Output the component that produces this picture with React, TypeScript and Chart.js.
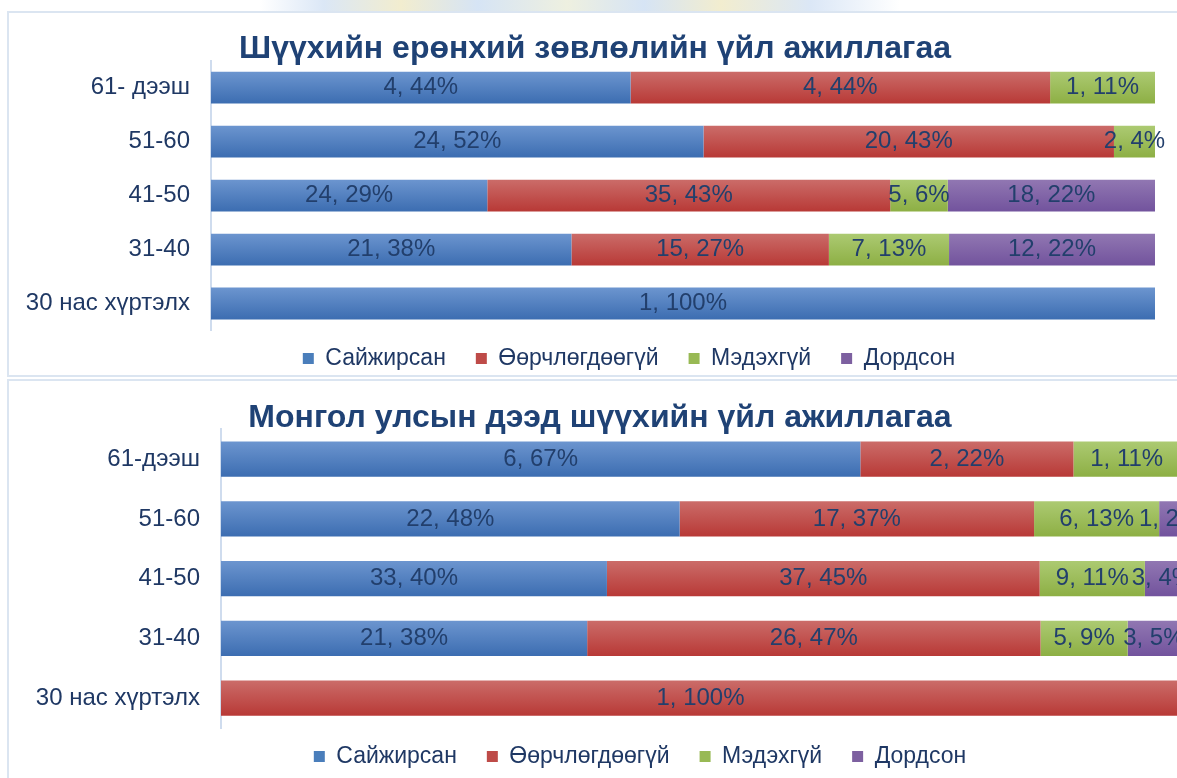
import React, { useEffect, useRef } from "react";
import { Chart, registerables } from "chart.js";

Chart.register(...registerables);

// ---------- data ----------
const seriesNames = ["Сайжирсан", "Өөрчлөгдөөгүй", "Мэдэхгүй", "Дордсон"];

const councilTitle = "Шүүхийн ерөнхий зөвлөлийн үйл ажиллагаа";
const councilAges = ["61- дээш", "51-60", "41-50", "31-40", "30 нас хүртэлх"];
const councilImproved = [4, 24, 24, 21, 1];
const councilUnchanged = [4, 20, 35, 15, 0];
const councilUnknown = [1, 2, 5, 7, 0];
const councilWorse = [0, 0, 18, 12, 0];

const courtTitle = "Монгол улсын дээд шүүхийн үйл ажиллагаа";
const courtAges = ["61-дээш", "51-60", "41-50", "31-40", "30 нас хүртэлх"];
const courtImproved = [6, 22, 33, 21, 0];
const courtUnchanged = [2, 17, 37, 26, 1];
const courtUnknown = [1, 6, 9, 5, 0];
const courtWorse = [0, 1, 3, 3, 0];

// ---------- style ----------
const FONT = "'Liberation Sans', Arial, sans-serif";
const TEXT = "#1f3864";
const TITLE = "#1f4275";
const LABEL = "#223f6c";
const BAR_PCT = 0.59;
const gradStops = [
  ["#6c95cf", "#3c6db1"],
  ["#cb6c69", "#b83936"],
  ["#acca72", "#8daf44"],
  ["#9177b2", "#72539d"],
];
const solid = ["#4a7ebb", "#be4b48", "#98b954", "#7d60a0"];

type Cfg = {
  title: string;
  labels: string[];
  counts: number[][];
  width: number;
  height: number;
  padRight: number;
  axisWidth: number;
  titlePadTop: number;
  legendMaxH: number;
  nudge: { title: { x: number; y: number }; legend: { x: number; y: number } };
};

const segLabels = {
  id: "segLabels",
  afterDatasetsDraw(chart: any) {
    const ctx = chart.ctx;
    ctx.save();
    ctx.font = `24px ${FONT}`;
    ctx.fillStyle = LABEL;
    ctx.textAlign = "center";
    ctx.textBaseline = "middle";
    chart.data.datasets.forEach((ds: any, di: number) => {
      const meta = chart.getDatasetMeta(di);
      meta.data.forEach((el: any, i: number) => {
        const count = ds.counts[i];
        if (!count) return;
        const pct = Math.round(ds.data[i]);
        const p = el.getProps(["x", "y", "base"], true);
        ctx.fillText(`${count}, ${pct}%`, (p.x + p.base) / 2, p.y);
      });
    });
    ctx.restore();
  },
};

// moves title / legend boxes after layout; legend box is only stretched upward so it is not clipped
const nudge = {
  id: "nudge",
  afterLayout(chart: any, _args: any, opts: any) {
    const t = chart.titleBlock;
    if (t && opts.title) {
      t.left += opts.title.x;
      t.right += opts.title.x;
      t.top += opts.title.y;
      t.bottom += opts.title.y;
    }
    const l = chart.legend;
    if (l && opts.legend) {
      l.left += opts.legend.x;
      l.right += opts.legend.x;
      l.top += opts.legend.y;
      l.height = l.bottom - l.top;
    }
  },
};

function StackChart({ cfg }: { cfg: Cfg }) {
  const ref = useRef<HTMLCanvasElement | null>(null);
  useEffect(() => {
    if (!ref.current) return;
    const n = cfg.labels.length;
    const totals = cfg.labels.map((_, i) =>
      cfg.counts.reduce((s, arr) => s + arr[i], 0)
    );
    const datasets = seriesNames.map((name, si) => ({
      label: name,
      counts: cfg.counts[si],
      data: cfg.counts[si].map((c, i) => (c / totals[i]) * 100),
      borderWidth: 0,
      barPercentage: BAR_PCT,
      categoryPercentage: 1,
      backgroundColor: (ctx: any) => {
        const chart = ctx.chart;
        const ys = chart.scales && chart.scales.y;
        if (!ys || ctx.type !== "data") return solid[si];
        const center = ys.getPixelForValue(ctx.dataIndex);
        const band = (ys.bottom - ys.top) / n;
        if (!isFinite(center) || !isFinite(band) || band <= 0) return solid[si];
        const half = (band * BAR_PCT) / 2;
        const g = chart.ctx.createLinearGradient(0, center - half, 0, center + half);
        g.addColorStop(0, gradStops[si][0]);
        g.addColorStop(1, gradStops[si][1]);
        return g;
      },
    }));
    const chart = new Chart(ref.current, {
      type: "bar",
      data: { labels: cfg.labels, datasets: datasets as any },
      plugins: [segLabels, nudge],
      options: {
        indexAxis: "y",
        responsive: false,
        animation: false,
        devicePixelRatio: 1,
        layout: { padding: { left: 0, right: cfg.padRight, top: 0, bottom: 0 } },
        scales: {
          x: { stacked: true, min: 0, max: 100, display: false },
          y: {
            stacked: true,
            grid: { display: false, drawTicks: false },
            border: { display: true, color: "#cfdcee", width: 2 },
            ticks: {
              padding: 21,
              color: TEXT,
              font: { family: FONT, size: 24 },
            },
            afterFit: (scale: any) => {
              scale.width = cfg.axisWidth;
            },
          },
        },
        plugins: {
          tooltip: { enabled: false },
          title: {
            display: true,
            text: cfg.title,
            color: TITLE,
            font: { family: FONT, size: 32, weight: "bold", lineHeight: 0.7 },
            padding: { top: cfg.titlePadTop, bottom: 0 },
          },
          legend: {
            display: true,
            position: "bottom",
            maxHeight: cfg.legendMaxH,
            labels: {
              color: TEXT,
              font: { family: FONT, size: 23 },
              boxWidth: 11,
              boxHeight: 11,
              padding: 30,
              generateLabels: (ch: any) => {
                const items = Chart.defaults.plugins.legend.labels.generateLabels(ch);
                return items.map((it: any, i: number) => ({
                  ...it,
                  fillStyle: solid[i],
                  strokeStyle: solid[i],
                  lineWidth: 0,
                }));
              },
            },
          },
          nudge: cfg.nudge,
        } as any,
      },
    });
    return () => chart.destroy();
  }, [cfg]);
  return (
    <canvas
      ref={ref}
      width={cfg.width}
      height={cfg.height}
      style={{ width: cfg.width, height: cfg.height, display: "block" }}
    />
  );
}

const councilCfg: Cfg = {
  title: councilTitle,
  labels: councilAges,
  counts: [councilImproved, councilUnchanged, councilUnknown, councilWorse],
  width: 1177,
  height: 364,
  padRight: 22,
  axisWidth: 211,
  titlePadTop: 26.3,
  legendMaxH: 45.5,
  nudge: { title: { x: 17.5, y: 0 }, legend: { x: 51.5, y: -13.5 } },
};

const courtCfg: Cfg = {
  title: courtTitle,
  labels: courtAges,
  counts: [courtImproved, courtUnchanged, courtUnknown, courtWorse],
  width: 1200,
  height: 398,
  padRight: 20,
  axisWidth: 221,
  titlePadTop: 26.9,
  legendMaxH: 50,
  nudge: { title: { x: 10, y: 0 }, legend: { x: 50, y: -13 } },
};

export default function App() {
  return (
    <div
      style={{
        position: "absolute",
        left: 0,
        top: 0,
        width: 1177,
        height: 778,
        overflow: "hidden",
        background: "#ffffff",
      }}
    >
      <div
        style={{
          position: "absolute",
          left: 260,
          top: 0,
          width: 640,
          height: 11,
          background:
            "linear-gradient(90deg, rgba(255,255,255,0) 0%, #dbe7f6 10%, #f2edcf 22%, #d6e4f5 34%, #eef0e0 48%, #d6e4f5 60%, #f2edcf 72%, #dbe7f6 86%, rgba(255,255,255,0) 100%)",
        }}
      />
      <div
        style={{
          position: "absolute",
          left: 7,
          top: 11,
          width: 1200,
          height: 366,
          border: "2px solid #dbe5f1",
          boxSizing: "border-box",
        }}
      />
      <div
        style={{
          position: "absolute",
          left: 7,
          top: 379,
          width: 1200,
          height: 430,
          border: "2px solid #dbe5f1",
          boxSizing: "border-box",
        }}
      />
      <div style={{ position: "absolute", left: 0, top: 12 }}>
        <StackChart cfg={councilCfg} />
      </div>
      <div style={{ position: "absolute", left: 0, top: 380 }}>
        <StackChart cfg={courtCfg} />
      </div>
    </div>
  );
}
